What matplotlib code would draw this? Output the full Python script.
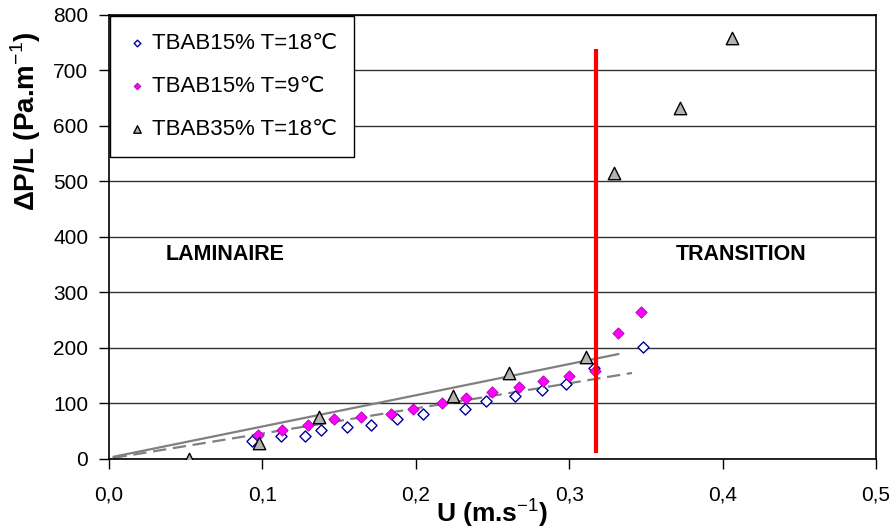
import matplotlib
matplotlib.use("Agg")
import matplotlib.pyplot as plt
from matplotlib.ticker import FuncFormatter

plt.rcParams['font.family'] = ['Liberation Sans', 'DejaVu Sans']
plt.rcParams['mathtext.fontset'] = 'custom'
plt.rcParams['mathtext.rm'] = 'Liberation Sans'
plt.rcParams['mathtext.bf'] = 'Liberation Sans:bold'

# TBAB15% T=18°C
u_15_18 = [0.093, 0.112, 0.128, 0.138, 0.155, 0.171, 0.188, 0.205, 0.232, 0.246,
           0.265, 0.282, 0.298, 0.316, 0.348]
dp_15_18 = [32, 41, 41, 52, 58, 61, 72, 81, 90, 104, 113, 124, 135, 164, 202]

# TBAB15% T=9°C
u_15_9 = [0.097, 0.113, 0.130, 0.147, 0.164, 0.184, 0.198, 0.217, 0.233, 0.250,
          0.267, 0.283, 0.300, 0.317, 0.332, 0.347]
dp_15_9 = [43, 52, 61, 72, 76, 81, 90, 101, 110, 121, 130, 141, 150, 159, 227, 265]

# TBAB35% T=18°C
u_35_18 = [0.052, 0.098, 0.137, 0.224, 0.261, 0.311, 0.329, 0.372, 0.406]
dp_35_18 = [0, 29, 76, 114, 155, 184, 515, 632, 758]

# linear trend lines (x range, values at ends)
trend_solid_x = [0.003, 0.332]
trend_solid_y = [4, 189]
trend_dash_x = [0.003, 0.341]
trend_dash_y = [2, 155]

# laminar / transition limit
u_limit = 0.3175
limit_range = [11, 738]

fig, ax = plt.subplots(figsize=(8.92, 5.30), dpi=100)
fig.subplots_adjust(left=0.1222, right=0.982, bottom=0.134, top=0.9717)

ax.set_axisbelow(True)
ax.yaxis.grid(True, color='#333333', linewidth=1.0)

ax.plot(trend_solid_x, trend_solid_y, color='#808080', linewidth=1.6, zorder=2)
ax.plot(trend_dash_x, trend_dash_y, color='#808080', linewidth=1.6,
        linestyle=(0, (6, 3)), zorder=2)

ax.scatter(u_15_18, dp_15_18, marker='D', s=32, facecolor='white',
           edgecolor='#000099', linewidth=1.0, label='TBAB15% T=18℃', zorder=3)
ax.scatter(u_15_9, dp_15_9, marker='D', s=34, facecolor='#ff00ff',
           edgecolor='#990099', linewidth=0.5, label='TBAB15% T=9℃', zorder=3)
ax.scatter(u_35_18, dp_35_18, marker='^', s=80, facecolor='#b3b3b3',
           edgecolor='black', linewidth=1.0, label='TBAB35% T=18℃', zorder=3)

ax.vlines(u_limit, limit_range[0], limit_range[1], color='red', linewidth=3, zorder=4)

ax.text(0.0756, 368, 'LAMINAIRE', fontsize=15.5, fontweight='bold', ha='center', va='center')
ax.text(0.412, 368, 'TRANSITION', fontsize=15.5, fontweight='bold', ha='center', va='center')

ax.set_xlim(0, 0.5)
ax.set_ylim(0, 800)
ax.set_xticks([0, 0.1, 0.2, 0.3, 0.4, 0.5])
ax.set_yticks(range(0, 801, 100))
ax.xaxis.set_major_formatter(FuncFormatter(lambda v, p: f'{v:.1f}'.replace('.', ',')))
ax.tick_params(direction='out', length=7, width=1, labelsize=15, color='black')
ax.tick_params(axis='x', pad=12)
ax.tick_params(axis='y', pad=8)

for s in ax.spines.values():
    s.set_color('black')
    s.set_linewidth(1.2)

ax.set_xlabel('U (m.s$^{-1}$)', fontsize=19, fontweight='bold')
ax.xaxis.set_label_coords(0.5, -0.083)
ax.set_ylabel('ΔP/L (Pa.m$^{-1}$)', fontsize=20, fontweight='bold')
ax.yaxis.set_label_coords(-0.086, 0.76)

leg = ax.legend(loc='upper left', fontsize=16, frameon=True, fancybox=False,
                edgecolor='black', framealpha=1, borderaxespad=0.05,
                handletextpad=0.25, labelspacing=1.0, borderpad=0.75, markerscale=0.6,
                handlelength=0.9)
leg.get_frame().set_linewidth(1.0)

fig.savefig('out.png', dpi=100)
